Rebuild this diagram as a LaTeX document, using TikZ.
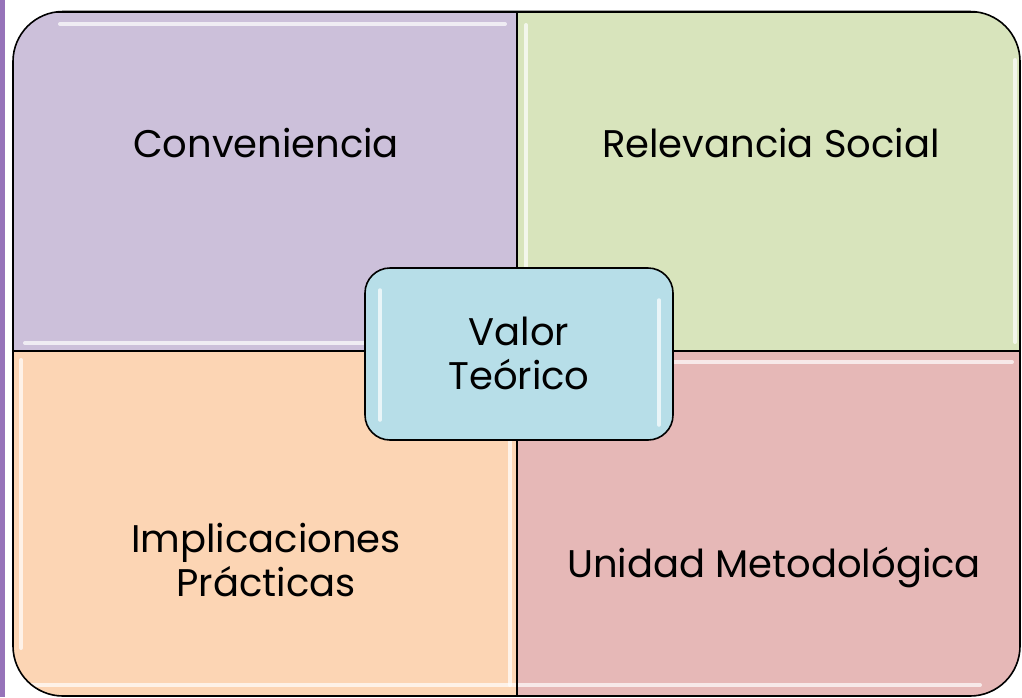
\documentclass[tikz,border=0pt]{standalone}
\usepackage{fontspec}
\setmainfont{Poppins}
\definecolor{strip}{HTML}{9673B9}
\definecolor{qpurple}{HTML}{CCC0DA}
\definecolor{qgreen}{HTML}{D8E4BC}
\definecolor{qpeach}{HTML}{FCD5B4}
\definecolor{qpink}{HTML}{E6B8B7}
\definecolor{qblue}{HTML}{B7DEE8}
\begin{document}
\begin{tikzpicture}[x=1pt,y=-1pt,
  quad/.style={draw=black,line width=1.6pt,minimum width=503pt,minimum height=342pt,inner sep=0pt,outer sep=0pt},
  lbl/.style={font=\fontsize{38.5}{44}\selectfont,align=center,anchor=base,text=black},
  shine/.style={white,line width=4pt,opacity=0.7,line cap=round}]
\useasboundingbox (0,0) rectangle (1022,697);
\fill[white] (0,0) rectangle (1022,697);
\fill[strip] (0,0) rectangle (4.5,697);
\begin{scope}
  \clip[rounded corners=50pt] (13,11.5) rectangle (1020,696);
  \node[quad,fill=qpurple,minimum width=504pt,minimum height=339.5pt] (q1) at (265,181.5) {};
  \node[quad,fill=qgreen,minimum width=503pt,minimum height=339.5pt] (q2) at (768.5,181.5) {};
  \node[quad,fill=qpeach,minimum width=504pt,minimum height=345pt] (q3) at (265,523.5) {};
  \node[quad,fill=qpink,minimum width=503pt,minimum height=345pt] (q4) at (768.5,523.5) {};
  % highlights
  \draw[shine] (60,24) -- (505,24);
  \draw[shine] (25,343) -- (508,343);
  \draw[shine] (526,25) -- (526,345);
  \draw[shine] (1015,60) -- (1015,342);
  \draw[shine] (21,360) -- (21,648);
  \draw[shine] (510,360) -- (510,685);
  \draw[shine] (528,362) -- (1012,362);
  \draw[shine] (25,685) -- (980,685);
\end{scope}
\draw[line width=1.6pt,rounded corners=50pt] (13,11.5) rectangle (1020,696);
\draw[line width=1.6pt] (q1.north east) -- (q3.south east);
\draw[line width=1.6pt] (q1.south west) -- (q2.south east);
\node[lbl] (t1) at (266,157) {Conveniencia};
\node[lbl] (t2) at (771,157) {Relevancia Social};
\node[lbl] (t3) at (266,596) {Implicaciones\\Prácticas};
\node[lbl] (t4) at (774,577) {Unidad Metodológica};
\node[draw=black,line width=1.6pt,fill=qblue,rounded corners=25pt,minimum width=308pt,minimum height=172pt,inner sep=0pt] (c) at (519,354) {};
\draw[shine,line width=3.5pt] (380,290) -- (380,420);
\draw[shine,line width=3.5pt] (659,300) -- (659,425);
\node[lbl] (t5) at (519,389) {Valor\\Teórico};
\end{tikzpicture}
\end{document}
